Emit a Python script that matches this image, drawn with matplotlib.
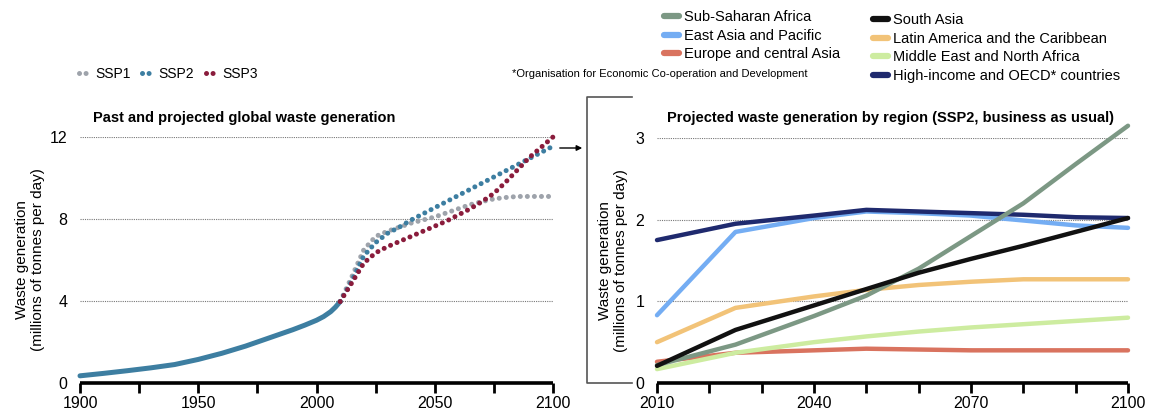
import matplotlib
matplotlib.use("Agg")
import matplotlib.pyplot as plt
from matplotlib import font_manager
from matplotlib.lines import Line2D
from matplotlib.ticker import MultipleLocator

# ----------------------------------------
# Fonts
# ----------------------------------------
names = {f.name for f in font_manager.fontManager.ttflist}
base_font = "Liberation Sans" if "Liberation Sans" in names else "DejaVu Sans"
narrow_font = "Liberation Sans Narrow" if "Liberation Sans Narrow" in names else base_font
plt.rcParams['font.family'] = [base_font, 'DejaVu Sans']

# ----------------------------------------
# Data: global waste generation (millions of tonnes per day)
# ----------------------------------------
hist_years = [1900, 1910, 1920, 1930, 1940, 1950, 1960, 1970, 1980, 1990,
              1995, 2000, 2003, 2006, 2008, 2010]
hist_waste = [0.35, 0.47, 0.60, 0.74, 0.90, 1.15, 1.45, 1.80, 2.20, 2.60,
              2.82, 3.06, 3.24, 3.48, 3.70, 3.97]

proj_years = [2010, 2015, 2020, 2025, 2030, 2035, 2040, 2045, 2050, 2055,
              2060, 2065, 2070, 2075, 2080, 2085, 2090, 2095, 2100]
ssp1 = [3.97, 5.20, 6.50, 7.15, 7.40, 7.60, 7.80, 7.95, 8.10, 8.30,
        8.50, 8.70, 8.85, 8.98, 9.05, 9.10, 9.10, 9.10, 9.10]
ssp2 = [3.97, 5.00, 6.20, 6.85, 7.30, 7.60, 7.95, 8.25, 8.55, 8.85,
        9.15, 9.45, 9.75, 10.05, 10.35, 10.65, 10.95, 11.25, 11.55]
ssp3 = [3.97, 4.90, 5.85, 6.35, 6.65, 6.90, 7.15, 7.40, 7.65, 7.90,
        8.20, 8.50, 8.85, 9.25, 9.80, 10.40, 11.00, 11.50, 12.00]

# Data: projected waste by region, SSP2
reg_years = [2010, 2025, 2040, 2050, 2060, 2070, 2080, 2090, 2100]
sub_saharan = [0.22, 0.47, 0.82, 1.07, 1.40, 1.80, 2.20, 2.68, 3.15]
east_asia = [0.83, 1.85, 2.02, 2.10, 2.08, 2.05, 1.99, 1.93, 1.90]
europe_ca = [0.26, 0.37, 0.40, 0.42, 0.41, 0.40, 0.40, 0.40, 0.40]
south_asia = [0.21, 0.65, 0.95, 1.15, 1.35, 1.52, 1.68, 1.85, 2.02]
latin_am = [0.50, 0.92, 1.06, 1.14, 1.20, 1.24, 1.27, 1.27, 1.27]
mena = [0.17, 0.37, 0.50, 0.57, 0.63, 0.68, 0.72, 0.76, 0.80]
high_income = [1.75, 1.95, 2.05, 2.12, 2.10, 2.08, 2.06, 2.03, 2.02]

# colours
c_ssp1, c_ssp2, c_ssp3 = '#9ea3ab', '#3d7ea1', '#8a1c3c'
c_ssa, c_eap, c_eca = '#7c9884', '#74adf3', '#d9735f'
c_sa, c_lac, c_mena, c_hi = '#111111', '#f2c378', '#cdeca0', '#1f2a6e'

W, H = 1150, 409
fig = plt.figure(figsize=(W / 100, H / 100), dpi=100)


def fx(px):
    return px / W


def fy(py):
    return 1 - py / H


def style_axis(ax):
    for s in ['top', 'right', 'left']:
        ax.spines[s].set_visible(False)
    ax.spines['bottom'].set_linewidth(2.6)
    ax.spines['bottom'].set_capstyle('butt')
    ax.xaxis.set_ticks_position('bottom')
    ax.grid(axis='y', linestyle=(0, (1, 1)), color='#777777', lw=0.8, zorder=1)


def finish_ticks(ax):
    ax.xaxis.set_tick_params(which='major', direction='out', length=7, width=2.0,
                             color='black', labelsize=11.5, pad=2)
    ax.xaxis.set_tick_params(which='minor', direction='out', length=7, width=2.0,
                             color='black')
    ax.yaxis.set_tick_params(length=0, labelsize=11.5, pad=9)


# ----------------------------------------
# Left panel
# ----------------------------------------
ax1 = fig.add_axes([fx(80), fy(383), fx(553 - 80), (383 - 137) / H])
style_axis(ax1)
ax1.set_xlim(1900, 2100)
ax1.set_ylim(0, 12)
ax1.xaxis.set_major_locator(MultipleLocator(50))
ax1.xaxis.set_minor_locator(MultipleLocator(25))
ax1.set_yticks([0, 4, 8, 12])
finish_ticks(ax1)

dot = (0, (0.01, 1.4))
ax1.plot(hist_years, hist_waste, color=c_ssp2, lw=3.6, solid_capstyle='round',
         solid_joinstyle='round', clip_on=False, zorder=3)
ax1.plot(proj_years, ssp1, color=c_ssp1, lw=3.6, linestyle=dot,
         dash_capstyle='round', clip_on=False, zorder=3)
ax1.plot(proj_years, ssp2, color=c_ssp2, lw=3.6, linestyle=dot,
         dash_capstyle='round', clip_on=False, zorder=3)
ax1.plot(proj_years, ssp3, color=c_ssp3, lw=3.6, linestyle=dot,
         dash_capstyle='round', clip_on=False, zorder=3)

ax1.set_ylabel("Waste generation\n(millions of tonnes per day)", fontsize=11,
               va='center', linespacing=1.1)
ax1.yaxis.set_label_coords((30 - 80) / 473, 0.5)

fig.text(fx(93), fy(118), "Past and projected global waste generation",
         fontsize=10.5, fontweight='bold', family=[narrow_font, 'DejaVu Sans'],
         va='center', ha='left')

ssp_handles = [Line2D([0], [0], color=c, lw=3.6, linestyle=(0, (0.01, 1.3)),
                      dash_capstyle='round') for c in (c_ssp1, c_ssp2, c_ssp3)]
fig.legend(ssp_handles, ['SSP1', 'SSP2', 'SSP3'], ncol=3, frameon=False,
           loc='center left', bbox_to_anchor=(fx(79), fy(74)), fontsize=10,
           handlelength=0.9, handletextpad=0.3, columnspacing=0.8,
           borderpad=0, borderaxespad=0)

fig.text(fx(512), fy(74), "*Organisation for Economic Co-operation and Development",
         fontsize=8, family=[narrow_font, 'DejaVu Sans'], va='center', ha='left')

# ----------------------------------------
# Right panel
# ----------------------------------------
ax2 = fig.add_axes([fx(657), fy(383), fx(1128 - 657), (383 - 138) / H])
style_axis(ax2)
ax2.set_xlim(2010, 2100)
ax2.set_ylim(0, 3)
ax2.xaxis.set_major_locator(MultipleLocator(30))
ax2.xaxis.set_minor_locator(MultipleLocator(10))
ax2.set_yticks([0, 1, 2, 3])
finish_ticks(ax2)

series = [
    (europe_ca, c_eca),
    (mena, c_mena),
    (latin_am, c_lac),
    (east_asia, c_eap),
    (high_income, c_hi),
    (sub_saharan, c_ssa),
    (south_asia, c_sa),
]
for vals, col in series:
    ax2.plot(reg_years, vals, color=col, lw=3.2, solid_capstyle='round',
             solid_joinstyle='round', clip_on=False, zorder=3)

ax2.set_ylabel("Waste generation\n(millions of tonnes per day)", fontsize=11,
               va='center', linespacing=1.1)
ax2.yaxis.set_label_coords((613 - 657) / 471, 0.5)

fig.text(fx(667), fy(118),
         "Projected waste generation by region (SSP2, business as usual)",
         fontsize=10.5, fontweight='bold', family=[narrow_font, 'DejaVu Sans'],
         va='center', ha='left')


def reg_handle(c):
    return Line2D([0], [0], color=c, lw=4.5, solid_capstyle='round')


col1 = [(c_ssa, 'Sub-Saharan Africa'), (c_eap, 'East Asia and Pacific'),
        (c_eca, 'Europe and central Asia')]
col2 = [(c_sa, 'South Asia'), (c_lac, 'Latin America and the Caribbean'),
        (c_mena, 'Middle East and North Africa'),
        (c_hi, 'High-income and OECD* countries')]
for items, x0, y0 in [(col1, 664, 10), (col2, 873, 13)]:
    fig.legend([reg_handle(c) for c, _ in items], [t for _, t in items],
               frameon=False, loc='upper left', bbox_to_anchor=(fx(x0), fy(y0)),
               fontsize=10.5, handlelength=1.0, handletextpad=0.4,
               labelspacing=0.32, borderpad=0, borderaxespad=0)

# bracket and arrow linking the panels
fig.add_artist(Line2D([fx(632), fx(587), fx(587), fx(632)],
                      [fy(97), fy(97), fy(383), fy(383)],
                      transform=fig.transFigure, color='#555555', lw=1.2))
fig.add_artist(plt.Annotation('', xy=(fx(585), fy(148)), xytext=(fx(557), fy(148)),
                              xycoords='figure fraction',
                              arrowprops=dict(arrowstyle='-|>', color='black',
                                              lw=1.0, mutation_scale=8)))

fig.savefig('out.png', dpi=100)
